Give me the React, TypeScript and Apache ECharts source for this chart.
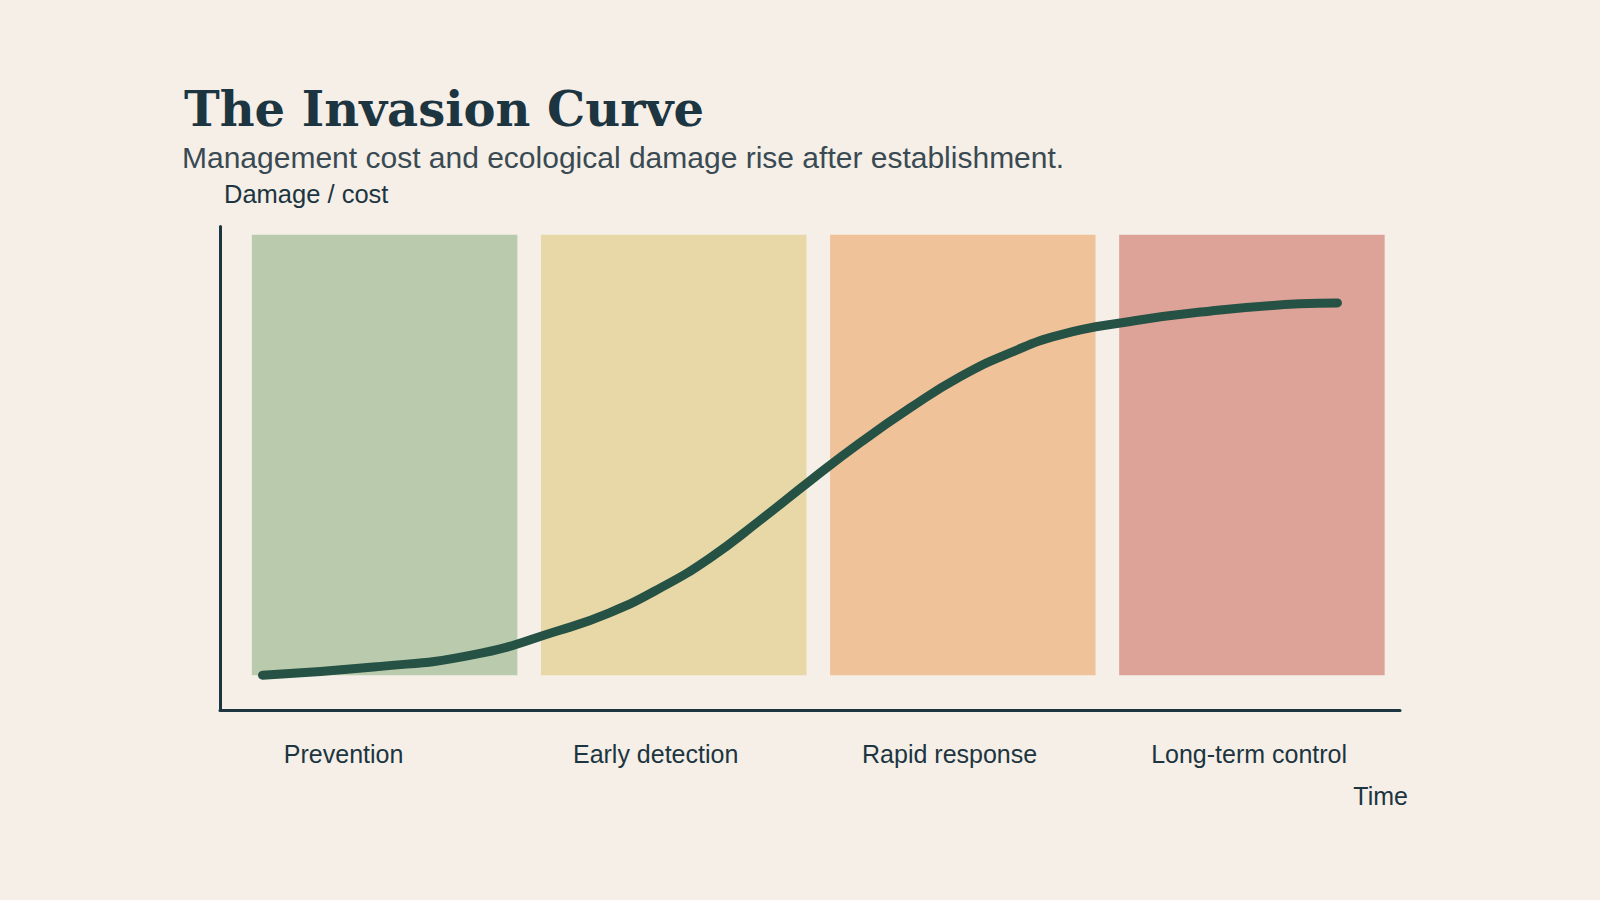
import React, { useEffect, useRef } from "react";
import * as echarts from "echarts";

// ---- data ----
const phaseLabels = ["Prevention", "Early detection", "Rapid response", "Long-term control"];
const phaseStart = [2.7, 27.2, 51.7, 76.2];
const phaseEnd = [25.2, 49.7, 74.2, 98.7];
const phaseBottom = 7.2;
const phaseTop = 98.3;

const curveX = [3.6, 13.0, 21.4, 28.8, 33.0, 37.3, 41.5, 45.8, 50.0, 54.2, 58.5, 62.7, 66.9, 71.2, 77.0, 83.1, 91.5, 94.7];
const curveY = [7.2, 8.9, 11.4, 16.5, 20.1, 25.2, 31.4, 39.3, 47.4, 55.2, 62.5, 68.9, 73.8, 77.6, 80.3, 82.3, 84.0, 84.2];

const titleText = "The Invasion Curve";
const subtitleText = "Management cost and ecological damage rise after establishment.";
const yAxisName = "Damage / cost";
const xAxisName = "Time";

// ---- styles ----
const phaseColors = ["#bacaad", "#e8d8a8", "#f0c299", "#dea398"];
const bg = "#f5efe8";
const ink = "#1c3540";
const curveColor = "#255244";

export default function App() {
  const ref = useRef<HTMLDivElement>(null);
  useEffect(() => {
    if (!ref.current) return;
    const chart = echarts.init(ref.current, null, { renderer: "svg" });
    const bandData = phaseLabels.map((_, i) => [phaseStart[i], phaseEnd[i], phaseBottom, phaseTop]);
    chart.setOption({
      animation: false,
      backgroundColor: bg,
      grid: { left: 220, right: 200, top: 226.5, bottom: 190 },
      xAxis: {
        type: "value",
        min: 0,
        max: 100,
        axisLine: { show: true, lineStyle: { color: ink, width: 3 } },
        axisTick: { show: false },
        axisLabel: { show: false },
        splitLine: { show: false },
        name: xAxisName,
        nameLocation: "end",
        nameGap: 8,
        nameTextStyle: {
          align: "right",
          verticalAlign: "top",
          padding: [73, 0, 0, 0],
          fontFamily: "Liberation Sans",
          fontSize: 25,
          color: ink,
        },
      },
      yAxis: {
        type: "value",
        min: 0,
        max: 100,
        axisLine: { show: true, lineStyle: { color: ink, width: 3 } },
        axisTick: { show: false },
        axisLabel: { show: false },
        splitLine: { show: false },
        name: yAxisName,
        nameLocation: "end",
        nameGap: 33,
        nameTextStyle: {
          align: "left",
          verticalAlign: "middle",
          padding: [0, 0, 0, 4],
          fontFamily: "Liberation Sans",
          fontSize: 25.5,
          color: ink,
        },
      },
      graphic: [
        {
          type: "text",
          left: 184,
          top: 85,
          style: {
            text: titleText,
            fontFamily: "DejaVu Serif",
            fontWeight: "bold",
            fontSize: 48,
            fill: ink,
          },
        },
        {
          type: "text",
          left: 182,
          top: 142,
          style: {
            text: subtitleText,
            fontFamily: "Liberation Sans",
            fontSize: 30,
            fill: "#3a4a52",
          },
        },
      ],
      series: [
        {
          type: "custom",
          z: 1,
          clip: false,
          silent: true,
          encode: { x: [0, 1], y: [2, 3] },
          data: bandData,
          renderItem: (params: any, api: any) => {
            const i = params.dataIndex;
            const p0 = api.coord([api.value(0), api.value(3)]);
            const p1 = api.coord([api.value(1), api.value(2)]);
            const base = api.coord([api.value(0), 0]);
            return {
              type: "group",
              children: [
                {
                  type: "rect",
                  shape: { x: p0[0], y: p0[1], width: p1[0] - p0[0], height: p1[1] - p0[1] },
                  style: { fill: phaseColors[i] },
                },
                {
                  type: "text",
                  x: p0[0] + 32,
                  y: base[1] + 44,
                  style: {
                    text: phaseLabels[i],
                    fill: ink,
                    fontFamily: "Liberation Sans",
                    fontSize: 25,
                    align: "left",
                    verticalAlign: "middle",
                  },
                },
              ],
            };
          },
        },
        {
          type: "line",
          z: 3,
          data: curveX.map((x, i) => [x, curveY[i]]),
          smooth: 0.5,
          showSymbol: false,
          symbol: "none",
          lineStyle: { color: curveColor, width: 9, cap: "round", join: "round" },
        },
      ],
    });
    return () => chart.dispose();
  }, []);
  return (
    <div
      ref={ref}
      style={{ position: "fixed", left: 0, top: 0, width: 1600, height: 900, background: bg }}
    />
  );
}
